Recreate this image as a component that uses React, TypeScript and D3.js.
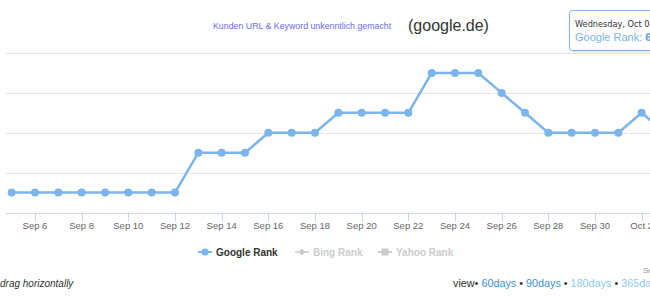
import React from "react";
import * as d3 from "d3";

const dates: string[] = [
  "2017-09-05","2017-09-06","2017-09-07","2017-09-08","2017-09-09","2017-09-10",
  "2017-09-11","2017-09-12","2017-09-13","2017-09-14","2017-09-15","2017-09-16",
  "2017-09-17","2017-09-18","2017-09-19","2017-09-20","2017-09-21","2017-09-22",
  "2017-09-23","2017-09-24","2017-09-25","2017-09-26","2017-09-27","2017-09-28",
  "2017-09-29","2017-09-30","2017-10-01","2017-10-02","2017-10-03","2017-10-04",
];
const googleRank: number[] = [
  9, 9, 9, 9, 9, 9, 9, 9, 7, 7, 7, 6, 6, 6, 5, 5, 5, 5, 3, 3, 3, 4, 5, 6, 6, 6, 6, 5, 6, 6,
];
const yTicks: number[] = [2, 4, 6, 8, 10];
const legendNames: string[] = ["Google Rank", "Bing Rank", "Yahoo Rank"];
const viewLinks: string[] = ["60days", "90days", "180days", "365days"];

const FONT = "'Liberation Sans', Arial, sans-serif";
const BLUE = "#7cb5ec";

export default function App() {
  const parse = d3.utcParse("%Y-%m-%d");
  const data = dates.map((d, i) => ({ date: parse(d) as Date, value: googleRank[i] }));

  const x = d3
    .scaleUtc()
    .domain([parse("2017-09-05") as Date, parse("2017-10-02") as Date])
    .range([11.67, 641.67]);
  const y = d3.scaleLinear().domain([2, 10]).range([53, 212.5]);

  const xTicks = d3.utcDay.range(parse("2017-09-06") as Date, parse("2017-10-05") as Date, 2);
  const fmt = d3.utcFormat("%b %-d");

  const line = d3
    .line<{ date: Date; value: number }>()
    .x((d) => x(d.date))
    .y((d) => y(d.value));

  const plotLeft = 6;
  const plotRight = 720;
  const axisY = y(10);

  return (
    <svg
      width={650}
      height={300}
      style={{ position: "absolute", left: 0, top: 0, background: "#fff" }}
      fontFamily={FONT}
    >
      <defs>
        <filter id="shadow" x="-20%" y="-20%" width="140%" height="160%">
          <feDropShadow dx="1" dy="1" stdDeviation="1" floodColor="#000" floodOpacity="0.15" />
        </filter>
      </defs>

      {/* title */}
      <text x={213} y={28.5} fontSize={8.8} fill="#6a6af2">
        Kunden URL &amp; Keyword unkenntlich gemacht
      </text>
      <text x={408} y={31} fontSize={16} fill="#333">
        (google.de)
      </text>

      {/* grid */}
      {yTicks.slice(0, -1).map((t) => (
        <line
          key={t}
          x1={plotLeft}
          x2={plotRight}
          y1={Math.round(y(t)) + 0.5}
          y2={Math.round(y(t)) + 0.5}
          stroke="#e6e6e6"
          strokeWidth={1}
        />
      ))}
      {/* x axis */}
      <line
        x1={plotLeft}
        x2={plotRight}
        y1={Math.round(axisY) + 0.5}
        y2={Math.round(axisY) + 0.5}
        stroke="#ccd6eb"
        strokeWidth={1}
      />
      {xTicks.map((t) => (
        <g key={t.toISOString()}>
          <line
            x1={Math.round(x(t)) + 0.5}
            x2={Math.round(x(t)) + 0.5}
            y1={axisY}
            y2={axisY + 9}
            stroke="#ccd6eb"
          />
          <text
            x={x(t)}
            y={228.5}
            fontSize={9.5}
            fill="#666"
            textAnchor="middle"
          >
            {fmt(t)}
          </text>
        </g>
      ))}

      {/* series */}
      <path
        d={line(data) || ""}
        fill="none"
        stroke={BLUE}
        strokeWidth={2.5}
        strokeLinejoin="round"
        strokeLinecap="round"
      />
      {data.map((d, i) => (
        <circle key={i} cx={x(d.date)} cy={y(d.value)} r={4} fill={BLUE} />
      ))}

      {/* legend */}
      <g>
        <line x1={198} x2={212} y1={252} y2={252} stroke={BLUE} strokeWidth={2} />
        <circle cx={205} cy={252} r={3.5} fill={BLUE} />
        <text x={216} y={255.5} fontSize={10} fontWeight="bold" fill="#333">
          {legendNames[0]}
        </text>

        <line x1={295} x2={309} y1={252} y2={252} stroke="#ccc" strokeWidth={1.5} />
        <path d="M302,248.5 L305.5,252 L302,255.5 L298.5,252 Z" fill="#ccc" />
        <text x={313} y={255.5} fontSize={10} fontWeight="bold" fill="#ccc">
          {legendNames[1]}
        </text>

        <line x1={378} x2={392} y1={252} y2={252} stroke="#ccc" strokeWidth={2} />
        <rect x={381.5} y={248.5} width={7} height={7} fill="#ccc" />
        <text x={396} y={255.5} fontSize={10} fontWeight="bold" fill="#ccc">
          {legendNames[2]}
        </text>
      </g>

      {/* tooltip */}
      <g filter="url(#shadow)">
        <rect
          x={569.5}
          y={10.5}
          width={120}
          height={40}
          rx={3}
          fill="#fff"
          fillOpacity={0.95}
          stroke={BLUE}
          strokeWidth={1}
        />
      </g>
      <text x={575} y={27} fontSize={8.2} fill="#333" fontFamily="'DejaVu Sans', Verdana, sans-serif">
        Wednesday, Oct 04
      </text>
      <text x={575} y={41} fontSize={11}>
        <tspan fill={BLUE}>Google Rank: </tspan>
        <tspan fill="#5b9bd9" fontWeight="bold">
          {String(data[data.length - 1].value)}
        </tspan>
      </text>

      {/* bottom texts */}
      <text x={0} y={287} fontSize={10} fontStyle="italic" fill="#333">
        drag horizontally
      </text>
      <text x={643} y={273} fontSize={8} fill="#999">
        Select
      </text>
      <text x={453} y={287} fontSize={10.8}>
        <tspan fill="#333">view• </tspan>
        <tspan fill="#3d8fd6">{viewLinks[0]}</tspan>
        <tspan fill="#333"> • </tspan>
        <tspan fill="#3d8fd6">{viewLinks[1]}</tspan>
        <tspan fill="#333"> • </tspan>
        <tspan fill="#8ccbf0">{viewLinks[2]}</tspan>
        <tspan fill="#333"> • </tspan>
        <tspan fill="#8ccbf0">{viewLinks[3]}</tspan>
      </text>
    </svg>
  );
}
